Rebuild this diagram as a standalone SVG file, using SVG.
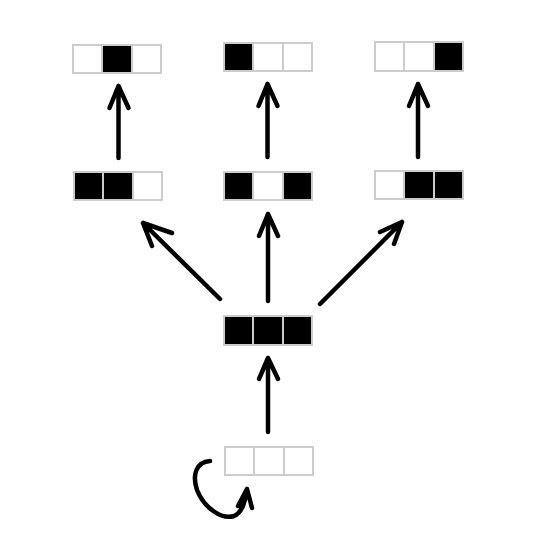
<svg xmlns="http://www.w3.org/2000/svg" width="557" height="543" viewBox="0 0 557 543">
<style>
.c{stroke:#cccccc;stroke-width:2;}
.w{fill:#ffffff;}
.b{fill:#000000;}
.a{fill:none;stroke:#000;stroke-width:4.5;stroke-linecap:round;stroke-linejoin:round;}
</style>
<rect width="557" height="543" fill="#fff"/>
<g id="top-left"><rect class="c w" x="73" y="45" width="29" height="28"/><rect class="c b" x="102" y="45" width="30" height="28"/><rect class="c w" x="132" y="45" width="29" height="28"/></g>
<g id="top-middle"><rect class="c b" x="224" y="43" width="29" height="28"/><rect class="c w" x="253" y="43" width="30" height="28"/><rect class="c w" x="283" y="43" width="29" height="28"/></g>
<g id="top-right"><rect class="c w" x="375" y="42" width="29" height="29"/><rect class="c w" x="404" y="42" width="30" height="29"/><rect class="c b" x="434" y="42" width="29" height="29"/></g>
<g id="mid-left"><rect class="c b" x="74" y="172" width="29" height="28"/><rect class="c b" x="103" y="172" width="30" height="28"/><rect class="c w" x="133" y="172" width="29" height="28"/></g>
<g id="mid-middle"><rect class="c b" x="224" y="172" width="29" height="28"/><rect class="c w" x="253" y="172" width="30" height="28"/><rect class="c b" x="283" y="172" width="29" height="28"/></g>
<g id="mid-right"><rect class="c w" x="375" y="171" width="29" height="28"/><rect class="c b" x="404" y="171" width="30" height="28"/><rect class="c b" x="434" y="171" width="29" height="28"/></g>
<g id="center"><rect class="c b" x="224" y="316" width="29" height="29"/><rect class="c b" x="253" y="316" width="30" height="29"/><rect class="c b" x="283" y="316" width="29" height="29"/></g>
<g id="bottom"><rect class="c w" x="225" y="447" width="29" height="28"/><rect class="c w" x="254" y="447" width="30" height="28"/><rect class="c w" x="284" y="447" width="29" height="28"/></g>
<g id="connectors">
<path class="a" d="M118.5 158 V86 M109.5 108 L118.5 86 L128.5 108"/>
<path class="a" d="M267.5 157 V84 M258.5 106 L267.5 84 L277.5 106"/>
<path class="a" d="M418 157 V84 M409 106 L418 84 L428 106"/>
<path class="a" d="M268 301 V214 M259 236 L268 214 L278 236"/>
<path class="a" d="M220 299 L143 223 M152 246 L143 223 L172 233"/>
<path class="a" d="M320 304 L402 222 M380 232 L402 222 L394 244"/>
<path class="a" d="M268 432 V358 M259 379 L268 358 L278 379"/>
<path class="a" d="M210 461 C196 462 192 475 197 490 C204 508 222 520 234 516 C242 513 246 500 247 489 M238 506 L247 489 L252 508"/>
</g>
</svg>
